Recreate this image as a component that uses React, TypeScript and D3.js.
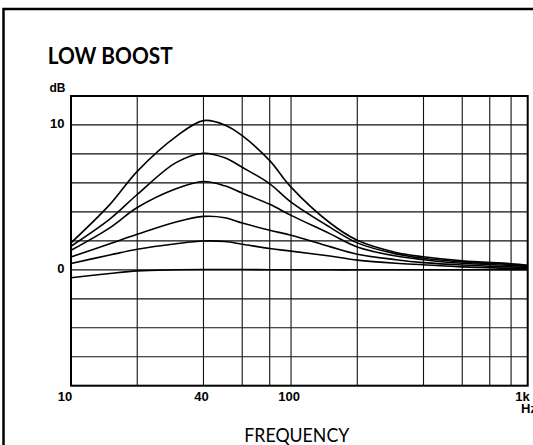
import React from 'react';
import * as d3 from 'd3';

// frequency points (Hz) the curves are read at
const FREQS = [10, 15, 20, 30, 40, 50, 60, 80, 100, 150, 200, 300, 400, 600, 1000, 1190];

// one array per boost setting, dB
const BOOST_10 = [1.86, 4.5, 6.8, 9.2, 10.3, 10.0, 9.26, 7.54, 5.71, 3.25, 2.04, 1.2, 0.9, 0.62, 0.42, 0.32];
const BOOST_8 = [1.63, 3.5, 5.2, 7.4, 8.05, 7.73, 7.08, 5.94, 4.68, 2.95, 1.86, 1.1, 0.8, 0.55, 0.36, 0.27];
const BOOST_6 = [1.35, 2.9, 4.3, 5.6, 6.1, 5.8, 5.3, 4.52, 3.76, 2.5, 1.58, 0.95, 0.7, 0.45, 0.3, 0.23];
const BOOST_4 = [0.89, 1.8, 2.45, 3.3, 3.69, 3.6, 3.23, 2.73, 2.39, 1.6, 1.08, 0.7, 0.5, 0.33, 0.2, 0.15];
const BOOST_2 = [0.44, 1.02, 1.42, 1.8, 1.99, 1.95, 1.77, 1.47, 1.29, 0.95, 0.67, 0.45, 0.35, 0.2, 0.1, 0.07];
const BOOST_0 = [-0.55, -0.25, -0.07, 0, 0.02, 0.02, 0.02, 0.01, 0.01, 0, 0, 0, 0, 0, 0, 0];

const SERIES = [BOOST_10, BOOST_8, BOOST_6, BOOST_4, BOOST_2, BOOST_0];

const X_GRID = [20, 40, 60, 80, 100, 200, 400, 600, 800, 1000];
const Y_GRID = [-6, -4, -2, 0, 2, 4, 6, 8, 10];
const X_TICKS = [10, 40, 100, 1000];
const X_TICK_LABELS = ['10', '40', '100', '1k'];
const Y_TICKS = [0, 10];

const W = 533;
const H = 445;
const margin = { top: 96, right: 5.3, bottom: 59.3, left: 71 };

export default function App() {
  const x = d3.scaleLog()
    .domain([10, 1190])
    .range([margin.left, W - margin.right]);
  const y = d3.scaleLinear()
    .domain([-8, 12])
    .range([H - margin.bottom, margin.top]);

  const line = d3.line<number>()
    .x((_, i) => x(FREQS[i]))
    .y(d => y(d))
    .curve(d3.curveCatmullRom.alpha(0.5));

  const [x0, x1] = x.range();
  const [yb, yt] = y.range();
  const bold = { fontFamily: '"Liberation Sans", Arial, sans-serif', fontWeight: 'bold', fontSize: 13 };

  return (
    <svg width={W} height={H} style={{ position: 'absolute', left: 0, top: 0, background: '#fff' }}>
      {/* outer frame, runs off the right and bottom edges */}
      <rect x={3.5} y={9} width={700} height={700} fill="none" stroke="#000" strokeWidth={2.5} />

      <text x={47.7} y={64.3} fontFamily="Lato, 'Open Sans', sans-serif" fontWeight="bold" fontSize={22.5}
        textLength={125} lengthAdjust="spacingAndGlyphs">LOW BOOST</text>

      <text x={49.5} y={92} style={{ ...bold, fontSize: 12 }}>dB</text>

      {/* grid */}
      {X_GRID.map(f => (
        <line key={'vx' + f} x1={x(f)} x2={x(f)} y1={yt} y2={yb} stroke="#111" strokeWidth={1.1} />
      ))}
      {Y_GRID.map(v => (
        <line key={'hy' + v} x1={x0} x2={x1} y1={y(v)} y2={y(v)} stroke="#111" strokeWidth={1.2} />
      ))}
      <rect x={x0} y={yt} width={x1 - x0} height={yb - yt} fill="none" stroke="#000" strokeWidth={2} />

      {/* curves */}
      {SERIES.map((s, i) => (
        <path key={i} d={line(s) || ''} fill="none" stroke="#000" strokeWidth={1.6} />
      ))}

      {/* y labels */}
      {Y_TICKS.map(v => (
        <text key={'yl' + v} x={64.5} y={y(v) - 1} textAnchor="end" dominantBaseline="central" style={bold}>{v}</text>
      ))}

      {/* x labels */}
      {X_TICKS.map((f, i) => {
        const last = i === X_TICKS.length - 1;
        const px = i === 0 ? x(f) - 6 : last ? x1 + 2 : x(f) - 2;
        return (
          <text key={'xl' + f} x={px} y={401} textAnchor={last ? 'end' : 'middle'} style={bold}>
            {X_TICK_LABELS[i]}
          </text>
        );
      })}
      <text x={521} y={413.3} style={bold}>Hz</text>

      <text x={296.8} y={441.7} textAnchor="middle" fontFamily="Lato, 'Open Sans', sans-serif" fontSize={18.5}
        textLength={105} lengthAdjust="spacingAndGlyphs">FREQUENCY</text>
    </svg>
  );
}
